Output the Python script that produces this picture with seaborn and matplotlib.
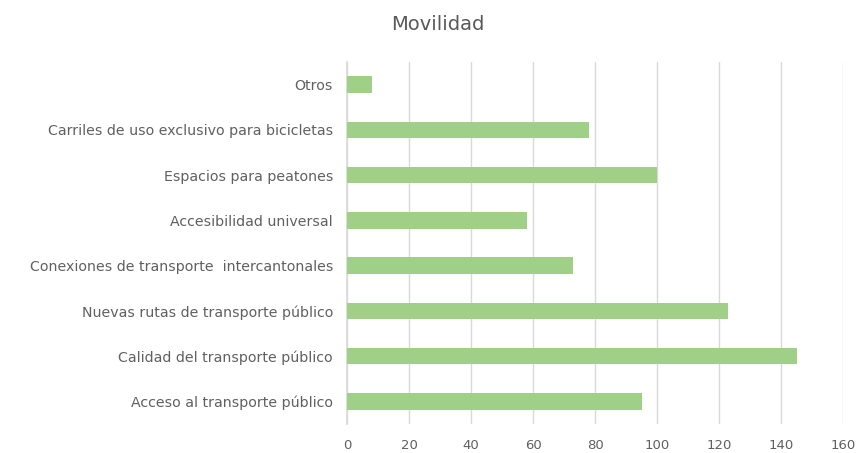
import matplotlib.pyplot as plt
import pandas as pd
import seaborn as sns

categories = [
    'Otros',
    'Carriles de uso exclusivo para bicicletas',
    'Espacios para peatones',
    'Accesibilidad universal',
    'Conexiones de transporte  intercantonales',
    'Nuevas rutas de transporte público',
    'Calidad del transporte público',
    'Acceso al transporte público',
]
values = [8, 78, 100, 58, 73, 123, 145, 95]
xticks = [0, 20, 40, 60, 80, 100, 120, 140, 160]

df = pd.DataFrame({'cat': categories, 'val': values})

sns.set_theme(style='white')
plt.rcParams['font.family'] = ['DejaVu Sans']

fig = plt.figure(figsize=(8.59, 4.53), dpi=100)
ax = fig.add_axes([347 / 859, 1 - 424 / 453, (843 - 347) / 859, (424 - 62) / 453])

sns.barplot(data=df, x='val', y='cat', color='#a0cf88', saturation=1,
            width=0.36, linewidth=0, ax=ax, zorder=3)

ax.set_xlim(0, 160)
ax.set_xticks(xticks)
ax.xaxis.grid(True, color='#d9d9d9', linewidth=1, zorder=0)
ax.set_axisbelow(True)
for s in ['top', 'right', 'bottom']:
    ax.spines[s].set_visible(False)
ax.spines['left'].set_color('#d9d9d9')
ax.tick_params(axis='x', colors='#606060', labelsize=9.5, length=0, pad=11)
ax.tick_params(axis='y', colors='#606060', labelsize=10.2, length=0, pad=10)
ax.set_xlabel('')
ax.set_ylabel('')
fig.text(438 / 859, 1 - 25 / 453, 'Movilidad', ha='center',
         va='center', fontsize=14, color='#595959')

fig.savefig('out.png', dpi=100)
